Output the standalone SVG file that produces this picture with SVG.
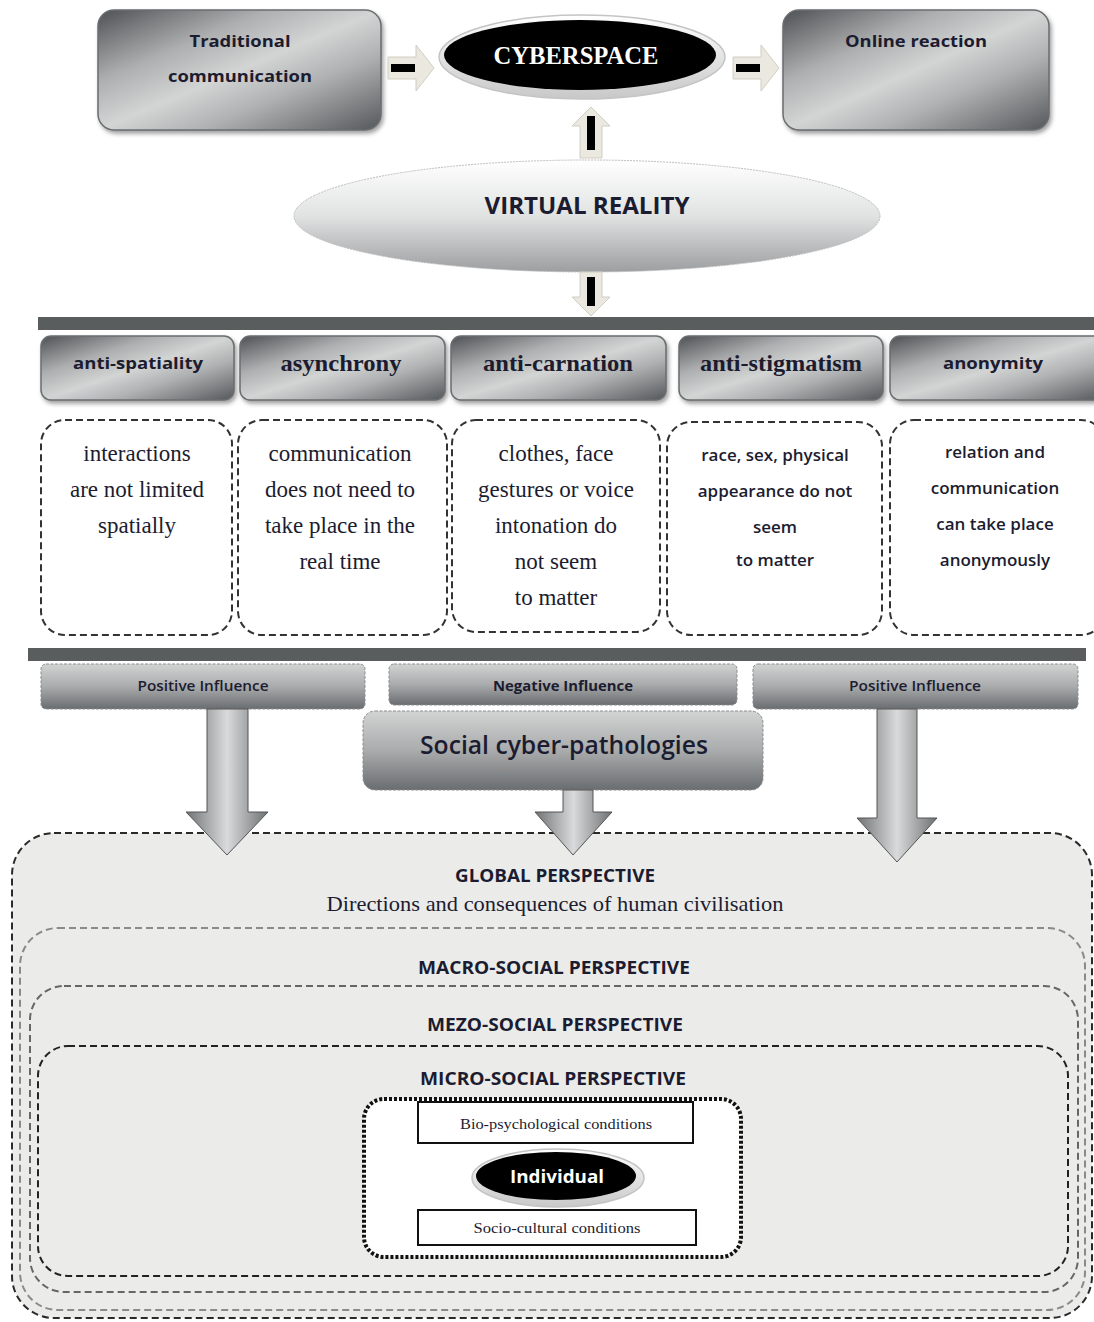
<svg xmlns="http://www.w3.org/2000/svg" width="1094" height="1322" viewBox="0 0 1094 1322">
<defs>
<linearGradient id="metal" x1="0" y1="0" x2="1" y2="1">
<stop offset="0" stop-color="#4e5154"/>
<stop offset="0.3" stop-color="#aeafb0"/>
<stop offset="0.5" stop-color="#d3d4d4"/>
<stop offset="0.68" stop-color="#b0b1b2"/>
<stop offset="1" stop-color="#55585b"/>
</linearGradient>
<linearGradient id="bar" x1="0" y1="0" x2="0" y2="1">
<stop offset="0" stop-color="#d2d3d3"/>
<stop offset="0.5" stop-color="#a9abac"/>
<stop offset="1" stop-color="#6a6d70"/>
</linearGradient>
<linearGradient id="vr" x1="0" y1="0" x2="0" y2="1">
<stop offset="0" stop-color="#ffffff"/>
<stop offset="0.5" stop-color="#e1e2e2"/>
<stop offset="1" stop-color="#9c9ea0"/>
</linearGradient>
<linearGradient id="rim" x1="0" y1="0" x2="0" y2="1">
<stop offset="0" stop-color="#ffffff"/>
<stop offset="1" stop-color="#c8c8c8"/>
</linearGradient>
<linearGradient id="big" x1="0" y1="0" x2="1" y2="0">
<stop offset="0" stop-color="#707375"/>
<stop offset="0.5" stop-color="#d9dadb"/>
<stop offset="1" stop-color="#6e7173"/>
</linearGradient>
<filter id="sh" x="-10%" y="-10%" width="130%" height="140%">
<feDropShadow dx="2" dy="3" stdDeviation="2" flood-color="#777" flood-opacity="0.7"/>
</filter>
<style>
.metal{fill:url(#metal);stroke:#6a6d70;stroke-width:1.5;filter:url(#sh)}
.bar{fill:url(#bar);stroke:#8a8c8e;stroke-width:1;stroke-dasharray:3,1.5}
.dbox{fill:#fff;stroke:#333;stroke-width:2;stroke-dasharray:7,4}
.lbl{font-family:"Open Sans","Liberation Sans",sans-serif;font-weight:bold;fill:#1c1c30;text-anchor:middle}
.ser{font-family:"Liberation Serif",serif;fill:#1c1c30;text-anchor:middle}
.serb{font-family:"Liberation Serif",serif;font-weight:bold;fill:#1c1c30;text-anchor:middle}
.san{font-family:"Open Sans","Liberation Sans",sans-serif;fill:#1c1c30;text-anchor:middle}
.sarrow{fill:#ebe9df;stroke:#d0cec4;stroke-width:1}
.bigarrow{fill:url(#big);stroke:#555;stroke-width:1}
.persp{font-family:"Open Sans","Liberation Sans",sans-serif;font-weight:bold;fill:#1c1c30;text-anchor:middle;font-size:17px}
</style>
</defs>
<rect width="1094" height="1322" fill="#fff"/>

<g id="traditional">
<rect class="metal" x="98" y="10" width="283" height="120" rx="16"/>
<text class="lbl" x="240" y="47" font-size="16" textLength="101" lengthAdjust="spacingAndGlyphs">Traditional</text>
<text class="lbl" x="240" y="82" font-size="16" textLength="144" lengthAdjust="spacingAndGlyphs">communication</text>
</g>
<g id="cyberspace">
<ellipse cx="582" cy="57" rx="143" ry="42" fill="url(#rim)" stroke="#c4c4c4" stroke-width="1.5"/>
<ellipse cx="580" cy="55" rx="136" ry="35" fill="#000"/>
<text class="serb" x="576" y="64" font-size="26" style="fill:#fff" textLength="165" lengthAdjust="spacingAndGlyphs">CYBERSPACE</text>
</g>
<g id="online">
<rect class="metal" x="783" y="10" width="266" height="120" rx="16"/>
<text class="lbl" x="916" y="47" font-size="16" textLength="142" lengthAdjust="spacingAndGlyphs">Online reaction</text>
</g>
<g id="virtual">
<ellipse cx="587" cy="216" rx="293" ry="56" fill="url(#vr)" stroke="#bdbdbd" stroke-width="1" stroke-dasharray="2,1"/>
<text class="lbl" x="587" y="214" font-size="24" textLength="205" lengthAdjust="spacingAndGlyphs">VIRTUAL REALITY</text>
</g>

<rect x="38" y="317" width="1056" height="13" fill="#595d5e"/>

<g id="h-antispatiality">
<rect class="metal" x="41" y="336" width="193" height="64" rx="10"/>
<text class="lbl" x="138" y="369" font-size="16" textLength="130" lengthAdjust="spacingAndGlyphs">anti-spatiality</text>
</g>
<g id="h-asynchrony">
<rect class="metal" x="240" y="336" width="205" height="64" rx="10"/>
<text class="serb" x="341" y="371" font-size="23" textLength="121" lengthAdjust="spacingAndGlyphs">asynchrony</text>
</g>
<g id="h-anticarnation">
<rect class="metal" x="451" y="336" width="215" height="64" rx="10"/>
<text class="serb" x="558" y="371" font-size="23" textLength="150" lengthAdjust="spacingAndGlyphs">anti-carnation</text>
</g>
<g id="h-antistigmatism">
<rect class="metal" x="679" y="336" width="204" height="64" rx="10"/>
<text class="serb" x="781" y="371" font-size="23" textLength="162" lengthAdjust="spacingAndGlyphs">anti-stigmatism</text>
</g>
<g id="h-anonymity">
<rect class="metal" x="890" y="336" width="215" height="64" rx="10"/>
<text class="lbl" x="993" y="369" font-size="16" textLength="100" lengthAdjust="spacingAndGlyphs">anonymity</text>
</g>

<g id="d-antispatiality">
<rect class="dbox" x="41" y="420" width="191" height="215" rx="24"/>
<text class="ser" font-size="23" x="137"><tspan x="137" y="461">interactions</tspan><tspan x="137" y="497">are not limited</tspan><tspan x="137" y="533">spatially</tspan></text>
</g>
<g id="d-asynchrony">
<rect class="dbox" x="238" y="420" width="209" height="215" rx="24"/>
<text class="ser" font-size="23" x="340"><tspan x="340" y="461">communication</tspan><tspan x="340" y="497">does not need to</tspan><tspan x="340" y="533">take place in the</tspan><tspan x="340" y="569">real time</tspan></text>
</g>
<g id="d-anticarnation">
<rect class="dbox" x="452" y="420" width="208" height="212" rx="24"/>
<text class="ser" font-size="23" x="556"><tspan x="556" y="461">clothes, face</tspan><tspan x="556" y="497">gestures or voice</tspan><tspan x="556" y="533">intonation do</tspan><tspan x="556" y="569">not seem</tspan><tspan x="556" y="605">to matter</tspan></text>
</g>
<g id="d-antistigmatism">
<rect class="dbox" x="667" y="422" width="215" height="213" rx="24"/>
<text class="san" font-size="17" font-weight="600" x="775"><tspan x="775" y="461">race, sex, physical</tspan><tspan x="775" y="497">appearance do not</tspan><tspan x="775" y="533">seem</tspan><tspan x="775" y="566">to matter</tspan></text>
</g>
<g id="d-anonymity">
<rect class="dbox" x="890" y="420" width="215" height="215" rx="24"/>
<text class="san" font-size="17" font-weight="600" x="995"><tspan x="995" y="458">relation and</tspan><tspan x="995" y="494">communication</tspan><tspan x="995" y="530">can take place</tspan><tspan x="995" y="566">anonymously</tspan></text>
</g>

<rect x="28" y="648" width="1058" height="13" fill="#595d5e"/>

<g id="global">
<rect x="12" y="833" width="1080" height="485" rx="42" fill="#ebebea" stroke="#2a2a2a" stroke-width="2" stroke-dasharray="7,4"/>
<text class="persp" x="555" y="882" textLength="200" lengthAdjust="spacingAndGlyphs">GLOBAL PERSPECTIVE</text>
<text class="ser" x="555" y="911" font-size="21" textLength="457" lengthAdjust="spacingAndGlyphs">Directions and consequences of human civilisation</text>
</g>
<g id="macro">
<rect x="20" y="928" width="1065" height="382" rx="38" fill="#ebebea" stroke="#8a8a8a" stroke-width="2" stroke-dasharray="7,4"/>
<text class="persp" x="554" y="974" textLength="272" lengthAdjust="spacingAndGlyphs">MACRO-SOCIAL PERSPECTIVE</text>
</g>
<g id="mezo">
<rect x="30" y="986" width="1048" height="306" rx="34" fill="#ebebea" stroke="#666" stroke-width="2" stroke-dasharray="7,4"/>
<text class="persp" x="555" y="1031" textLength="256" lengthAdjust="spacingAndGlyphs">MEZO-SOCIAL PERSPECTIVE</text>
</g>
<g id="micro">
<rect x="38" y="1046" width="1030" height="230" rx="30" fill="#ebebea" stroke="#222" stroke-width="2" stroke-dasharray="7,4"/>
<text class="persp" x="553" y="1085" textLength="266" lengthAdjust="spacingAndGlyphs">MICRO-SOCIAL PERSPECTIVE</text>
</g>
<g id="individual-frame">
<rect x="364" y="1099" width="377" height="158" rx="20" fill="#fff" stroke="#111" stroke-width="4" stroke-dasharray="3,2"/>
</g>
<g id="bio">
<rect x="418" y="1102" width="275" height="41" fill="#fff" stroke="#111" stroke-width="2"/>
<text class="ser" x="556" y="1129" font-size="14" textLength="192" lengthAdjust="spacingAndGlyphs">Bio-psychological conditions</text>
</g>
<g id="individual">
<ellipse cx="558" cy="1178" rx="86" ry="29" fill="url(#rim)" stroke="#c4c4c4" stroke-width="1.5"/>
<ellipse cx="556" cy="1176" rx="80" ry="24" fill="#000"/>
<text class="lbl" x="557" y="1183" font-size="18" style="fill:#fff" textLength="94" lengthAdjust="spacingAndGlyphs">Individual</text>
</g>
<g id="socio">
<rect x="418" y="1210" width="278" height="35" fill="#fff" stroke="#111" stroke-width="2"/>
<text class="ser" x="557" y="1233" font-size="14" textLength="167" lengthAdjust="spacingAndGlyphs">Socio-cultural conditions</text>
</g>

<g id="pos-left">
<rect class="bar" x="41" y="664" width="324" height="45" rx="5"/>
<text class="san" x="203" y="691" font-size="14" font-weight="600" textLength="131" lengthAdjust="spacingAndGlyphs">Positive Influence</text>
</g>
<g id="negative">
<rect class="bar" x="389" y="664" width="348" height="41" rx="5"/>
<text class="san" x="563" y="691" font-size="14" font-weight="bold" textLength="140" lengthAdjust="spacingAndGlyphs">Negative Influence</text>
</g>
<g id="pos-right">
<rect class="bar" x="753" y="664" width="325" height="45" rx="5"/>
<text class="san" x="915" y="691" font-size="14" font-weight="600" textLength="132" lengthAdjust="spacingAndGlyphs">Positive Influence</text>
</g>
<g id="pathologies">
<rect class="bar" x="363" y="711" width="400" height="79" rx="12"/>
<text class="san" x="564" y="754" font-size="25" font-weight="600" textLength="288" lengthAdjust="spacingAndGlyphs">Social cyber-pathologies</text>
</g>

<g id="connectors">
<g>
<path class="sarrow" d="M388,57 H416 V45 L434,68 L416,91 V79 H388 Z"/>
<rect x="391" y="64" width="24" height="8" fill="#000"/>
</g>
<g>
<path class="sarrow" d="M733,57 H761 V45 L779,68 L761,91 V79 H733 Z"/>
<rect x="736" y="64" width="24" height="8" fill="#000"/>
</g>
<g>
<path class="sarrow" d="M580,158 V126 H572 L591,107 L610,126 H602 V158 Z"/>
<rect x="587" y="116" width="8" height="34" fill="#000"/>
</g>
<g>
<path class="sarrow" d="M580,272 V297 H572 L591,316 L610,297 H602 V272 Z"/>
<rect x="587" y="277" width="8" height="29" fill="#000"/>
</g>
<path class="bigarrow" d="M207,709 V812 H186 L227,855 L268,812 H248 V709 Z"/>
<path class="bigarrow" d="M563,790 V812 H535 L573,855 L612,812 H593 V790 Z"/>
<path class="bigarrow" d="M877,709 V818 H857 L897,862 L937,818 H917 V709 Z"/>
</g>
</svg>
